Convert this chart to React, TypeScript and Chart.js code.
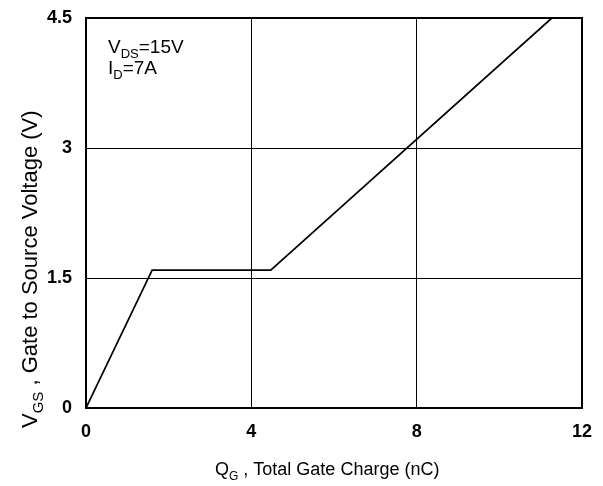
import React, { useEffect, useRef } from "react";
import { Chart, registerables } from "chart.js";

Chart.register(...registerables);

const gateCharge = [0, 1.6, 4.47, 11.27];
const gateVoltage = [0, 1.59, 1.59, 4.5];
const xTicks = [0, 4, 8, 12];
const yTicks = [0, 1.5, 3, 4.5];
const xTitle = [
  { t: "Q", sub: false },
  { t: "G", sub: true },
  { t: " , Total Gate Charge (nC)", sub: false },
];
const yTitle = [
  { t: "V", sub: false },
  { t: "GS", sub: true },
  { t: " , Gate to Source Voltage (V)", sub: false },
];
const note1 = [
  { t: "V", sub: false },
  { t: "DS", sub: true },
  { t: "=15V", sub: false },
];
const note2 = [
  { t: "I", sub: false },
  { t: "D", sub: true },
  { t: "=7A", sub: false },
];

const FONT = "'Liberation Sans', Arial, sans-serif";

type Seg = { t: string; sub: boolean };

function drawSegs(
  ctx: CanvasRenderingContext2D,
  segs: Seg[],
  x: number,
  y: number,
  size: number
) {
  const subSize = Math.round(size * 0.68);
  let cx = x;
  ctx.textAlign = "left";
  ctx.textBaseline = "alphabetic";
  segs.forEach((s) => {
    ctx.font = `${s.sub ? subSize : size}px ${FONT}`;
    ctx.fillText(s.t, cx, s.sub ? y + size * 0.28 : y);
    cx += ctx.measureText(s.t).width;
  });
}

const overlay = {
  id: "overlay",
  afterDraw(chart: any) {
    const ctx = chart.ctx as CanvasRenderingContext2D;
    const a = chart.chartArea;
    ctx.save();
    ctx.strokeStyle = "#000";
    ctx.lineWidth = 2;
    ctx.strokeRect(a.left, a.top, a.right - a.left, a.bottom - a.top);
    ctx.fillStyle = "#000";
    drawSegs(ctx, note1, a.left + 22, 53, 19);
    drawSegs(ctx, note2, a.left + 22, 74, 19);
    drawSegs(ctx, xTitle, 215, 475, 18);
    ctx.translate(37, 428);
    ctx.rotate(-Math.PI / 2);
    drawSegs(ctx, yTitle, 0, 0, 22);
    ctx.restore();
  },
};

export default function App() {
  const ref = useRef<HTMLCanvasElement>(null);
  useEffect(() => {
    if (!ref.current) return;
    const chart = new Chart(ref.current, {
      type: "line",
      data: {
        datasets: [
          {
            data: gateCharge.map((x, i) => ({ x, y: gateVoltage[i] })),
            borderColor: "#000",
            borderWidth: 1.7,
            pointRadius: 0,
            tension: 0,
            fill: false,
          },
        ],
      },
      options: {
        responsive: false,
        animation: false,
        layout: { padding: { left: 0, top: 18, right: 21, bottom: 0 } },
        plugins: { legend: { display: false }, tooltip: { enabled: false } },
        scales: {
          x: {
            type: "linear",
            min: 0,
            max: 12,
            afterBuildTicks: (s: any) => {
              s.ticks = xTicks.map((v) => ({ value: v }));
            },
            afterFit: (s: any) => {
              s.height = 78;
              s.paddingLeft = 0;
              s.paddingRight = 0;
            },
            grid: { color: "#000", lineWidth: 1, drawTicks: false },
            border: { display: true, color: "#000", width: 2 },
            ticks: {
              color: "#000",
              padding: 13,
              font: { family: FONT, size: 18, weight: "bold" },
              maxRotation: 0,
            },
          },
          y: {
            type: "linear",
            min: 0,
            max: 4.5,
            afterBuildTicks: (s: any) => {
              s.ticks = yTicks.map((v) => ({ value: v }));
            },
            afterFit: (s: any) => {
              s.width = 86;
              s.paddingTop = 0;
              s.paddingBottom = 0;
            },
            grid: { color: "#000", lineWidth: 1, drawTicks: false },
            border: { display: true, color: "#000", width: 2 },
            ticks: {
              color: "#000",
              padding: 14,
              font: { family: FONT, size: 18, weight: "bold" },
              callback: (v: any) => String(v),
            },
          },
        },
      },
      plugins: [overlay],
    });
    return () => chart.destroy();
  }, []);
  return (
    <div style={{ position: "absolute", left: 0, top: 0, width: 603, height: 486, background: "#fff" }}>
      <canvas ref={ref} width={603} height={486} />
    </div>
  );
}
